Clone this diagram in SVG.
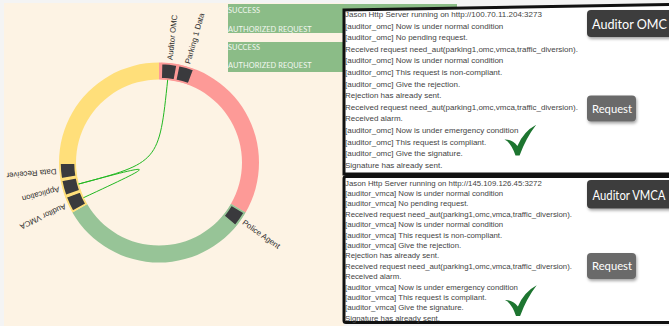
<svg xmlns="http://www.w3.org/2000/svg" width="669" height="326" viewBox="0 0 669 326">
  <style>
    .ring-label { font-family: "Liberation Sans", Arial, sans-serif; font-size: 7.9px; fill: #2e2e2e; }
    .status { font-family: Lato, "Liberation Sans", sans-serif; font-size: 7.4px; fill: #f2f7f0; letter-spacing: 0.1px; }
    .log1 { font-family: "Liberation Sans", Arial, sans-serif; font-size: 8px; fill: #444; }
    .log2 { font-family: "Liberation Sans", Arial, sans-serif; font-size: 7.8px; fill: #444; }
    .btn-title { font-family: Lato, "Liberation Sans", sans-serif; font-size: 13px; fill: #fff; }
    .btn-req { font-family: Lato, "Liberation Sans", sans-serif; font-size: 11px; fill: #fff; }
    .node { fill: #3a3a3d; stroke-width: 1.5; }
    .chord { fill: none; stroke: #22b822; stroke-width: 1; }
    .panel { fill: #fff; stroke: #111; stroke-width: 3; }
    .check { fill: #1d7530; }
  </style>
  <defs>
    <filter id="btnShadow" x="-20%" y="-30%" width="140%" height="170%">
      <feDropShadow dx="1" dy="2" stdDeviation="1.6" flood-color="#000" flood-opacity="0.35"/>
    </filter>
    <path id="tick" class="check" d="M504.5,139.6 Q511,142.5 515.5,155.5 L519.6,155.5 Q526,138 536.2,124.8 Q523.5,131.5 517.4,146 Q512,139.2 504.5,139.6 Z"/>
  </defs>

  <!-- page background -->
  <rect x="0" y="0" width="669" height="326" fill="#f4f4f4"/>
  <rect x="4" y="3" width="340" height="323" fill="#fdf3e4"/>

  <!-- status messages -->
  <g id="status-1">
    <rect x="228" y="4" width="229" height="29" fill="#8bbc87"/>
    <text class="status" x="228" y="13">SUCCESS</text>
    <text class="status" x="228" y="31.5">AUTHORIZED REQUEST</text>
  </g>
  <g id="status-2">
    <rect x="228" y="42" width="229" height="30" fill="#8bbc87"/>
    <text class="status" x="228" y="50">SUCCESS</text>
    <text class="status" x="228" y="68">AUTHORIZED REQUEST</text>
  </g>

  <!-- group arcs of the ring (centre 159,162.5) -->
  <g id="ring">
    <path fill="#fd9a97" d="M159,62.5 A100,100 0 0 1 245.60,212.5 L230.88,204 A83,83 0 0 0 159,79.5 Z"/>
    <path fill="#97c497" d="M245.60,212.5 A100,100 0 0 1 72.40,212.5 L87.12,204 A83,83 0 0 0 230.88,204 Z"/>
    <path fill="#ffdf7a" d="M72.40,212.5 A100,100 0 0 1 159,62.5 L159,79.5 A83,83 0 0 0 87.12,204 Z"/>
  </g>

  <!-- connectors -->
  <g id="connectors">
    <path class="chord" d="M167.78,78.96 C159,162.5 159,162.5 77.86,184.24"/>
    <path class="chord" d="M77.86,184.24 C159,162.5 159,162.5 82.87,198.00"/>
  </g>

  <!-- nodes -->
  <g id="node-auditor-omc">
    <path class="node" stroke="#fd9a97" d="M161.59,63.53 A99,99 0 0 1 177.04,65.16 L174.31,79.91 A84,84 0 0 0 161.20,78.53 Z"/>
    <text class="ring-label" transform="translate(159,162.5) rotate(-84)" x="103" dy="0.35em">Auditor OMC</text>
  </g>
  <g id="node-parking-1-data">
    <path class="node" stroke="#fd9a97" d="M178.74,65.49 A99,99 0 0 1 193.67,69.77 L188.42,83.82 A84,84 0 0 0 175.75,80.19 Z"/>
    <text class="ring-label" transform="translate(159,162.5) rotate(-74)" x="103" dy="0.35em">Parking 1 Data</text>
  </g>
  <g id="node-police-agent">
    <path class="node" stroke="#97c497" d="M244.30,212.75 A99,99 0 0 1 235.39,225.47 L223.82,215.93 A84,84 0 0 0 231.38,205.13 Z"/>
    <text class="ring-label" transform="translate(159,162.5) rotate(35)" x="103" dy="0.35em">Police Agent</text>
  </g>
  <g id="node-auditor-vmca">
    <path class="node" stroke="#ffdf7a" d="M72.83,211.25 A99,99 0 0 1 66.27,197.17 L80.32,191.92 A84,84 0 0 0 85.89,203.86 Z"/>
    <text class="ring-label" transform="translate(159,162.5) rotate(155)" x="103" dy="0.35em">Auditor VMCA</text>
  </g>
  <g id="node-application">
    <path class="node" stroke="#ffdf7a" d="M65.68,195.55 A99,99 0 0 1 61.66,180.54 L76.41,177.81 A84,84 0 0 0 79.82,190.54 Z"/>
    <text class="ring-label" transform="translate(159,162.5) rotate(165)" x="103" dy="0.35em">Application</text>
  </g>
  <g id="node-data-receiver">
    <path class="node" stroke="#ffdf7a" d="M61.36,178.84 A99,99 0 0 1 60.00,163.36 L75.00,163.23 A84,84 0 0 0 76.15,176.36 Z"/>
    <text class="ring-label" transform="translate(159,162.5) rotate(175)" x="103" dy="0.35em">Data Receiver</text>
  </g>

  <!-- log console: auditor OMC -->
  <g id="console-omc">
    <path class="panel" d="M344,10 L671,4.5 L671,174 L344,174 Z"/>
    <text class="log1" x="345" y="17">Jason Http Server running on http://100.70.11.204:3273</text>
    <text class="log1" x="345" y="28.6">[auditor_omc] Now is under normal condition</text>
    <text class="log1" x="345" y="40.2">[auditor_omc] No pending request.</text>
    <text class="log1" x="345" y="51.8">Received request need_aut(parking1,omc,vmca,traffic_diversion).</text>
    <text class="log1" x="345" y="63.4">[auditor_omc] Now is under normal condition</text>
    <text class="log1" x="345" y="75">[auditor_omc] This request is non-compliant.</text>
    <text class="log1" x="345" y="86.6">[auditor_omc] Give the rejection.</text>
    <text class="log1" x="345" y="98.2">Rejection has already sent.</text>
    <text class="log1" x="345" y="109.8">Received request need_aut(parking1,omc,vmca,traffic_diversion).</text>
    <text class="log1" x="345" y="121.4">Received alarm.</text>
    <text class="log1" x="345" y="133">[auditor_omc] Now is under emergency condition</text>
    <text class="log1" x="345" y="144.6">[auditor_omc] This request is compliant.</text>
    <text class="log1" x="345" y="156.2">[auditor_omc] Give the signature.</text>
    <text class="log1" x="345" y="167.8">Signature has already sent.</text>
    <g filter="url(#btnShadow)">
      <rect x="587" y="10" width="90" height="27" rx="4" fill="#3c3c3c"/>
      <rect x="587" y="95.5" width="49" height="26" rx="4" fill="#6a6a6a"/>
    </g>
    <text class="btn-title" x="592" y="29" textLength="75" lengthAdjust="spacingAndGlyphs">Auditor OMC</text>
    <text class="btn-req" x="592" y="112.5" textLength="40" lengthAdjust="spacingAndGlyphs">Request</text>
    <use href="#tick"/>
  </g>

  <!-- log console: auditor VMCA -->
  <g id="console-vmca">
    <rect class="panel" x="344" y="176.5" width="327" height="146" rx="2"/>
    <text class="log2" x="345" y="185.5">Jason Http Server running on http://145.109.126.45:3272</text>
    <text class="log2" x="345" y="195.9">[auditor_vmca] Now is under normal condition</text>
    <text class="log2" x="345" y="206.3">[auditor_vmca] No pending request.</text>
    <text class="log2" x="345" y="216.7">Received request need_aut(parking1,omc,vmca,traffic_diversion).</text>
    <text class="log2" x="345" y="227.1">[auditor_vmca] Now is under normal condition</text>
    <text class="log2" x="345" y="237.5">[auditor_vmca] This request is non-compliant.</text>
    <text class="log2" x="345" y="247.9">[auditor_vmca] Give the rejection.</text>
    <text class="log2" x="345" y="258.3">Rejection has already sent.</text>
    <text class="log2" x="345" y="268.7">Received request need_aut(parking1,omc,vmca,traffic_diversion).</text>
    <text class="log2" x="345" y="279.1">Received alarm.</text>
    <text class="log2" x="345" y="289.5">[auditor_vmca] Now is under emergency condition</text>
    <text class="log2" x="345" y="299.9">[auditor_vmca] This request is compliant.</text>
    <text class="log2" x="345" y="310.3">[auditor_vmca] Give the signature.</text>
    <text class="log2" x="345" y="320.7">Signature has already sent.</text>
    <g filter="url(#btnShadow)">
      <rect x="587" y="180" width="90" height="28.5" rx="4" fill="#3c3c3c"/>
      <rect x="587" y="253" width="49" height="26" rx="4" fill="#6a6a6a"/>
    </g>
    <text class="btn-title" x="592.5" y="199.5" textLength="73" lengthAdjust="spacingAndGlyphs">Auditor VMCA</text>
    <text class="btn-req" x="592" y="270" textLength="40" lengthAdjust="spacingAndGlyphs">Request</text>
    <use href="#tick" transform="translate(0.5,160.5)"/>
  </g>
</svg>
